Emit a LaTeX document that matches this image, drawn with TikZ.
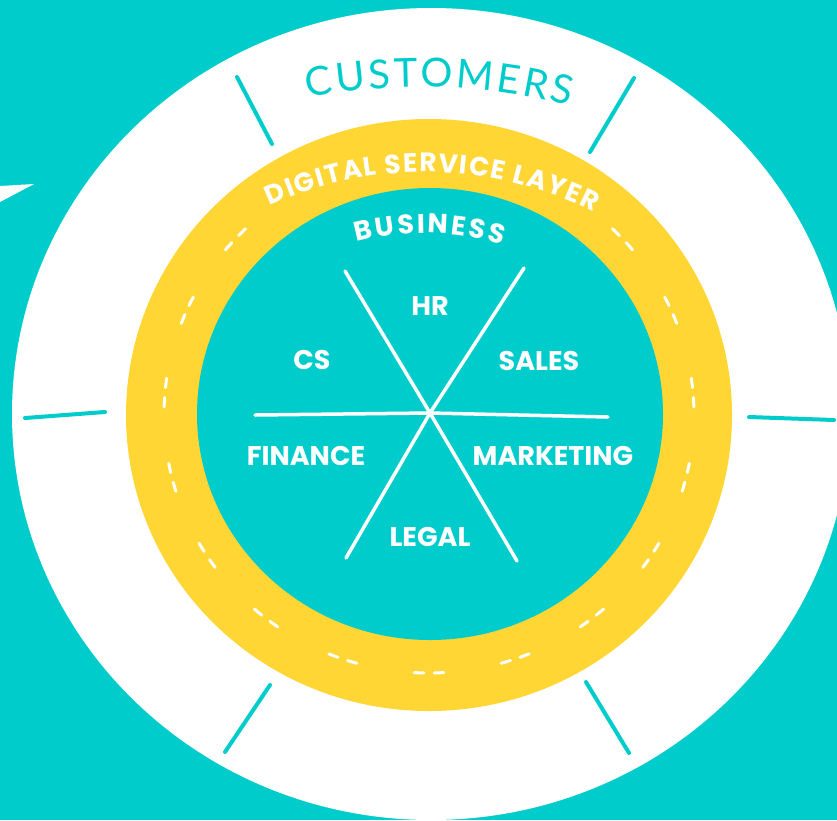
\documentclass[tikz,border=0pt]{standalone}
\usepackage{fontspec}
\setmainfont{Poppins}
\newfontfamily\custfont{Lato}
\usepackage{tikz}
\usetikzlibrary{decorations.text}
\definecolor{lagoon}{RGB}{0,204,204}
\definecolor{sunflower}{RGB}{255,214,51}

\begin{document}
\begin{tikzpicture}
	[ x=1pt, y=-1pt,
		notch/.style={draw=lagoon,line width=4pt,line cap=round},
		lane/.style={draw=white,line width=3pt,line cap=round},
		spoke/.style={draw=white,line width=3.5pt,line cap=round},
		dept/.style={text=white,font=\fontsize{27}{27}\selectfont\bfseries},
		arcText/.style={decorate,decoration={text along path,text align=fit to path,text color=#1}}]

	\useasboundingbox (0,0) rectangle (837,820);
	\clip (0,0) rectangle (837,820);
	\fill[lagoon] (0,0) rectangle (837,820);
	\fill[white] (0,186) -- (34,184) -- (0,202) -- cycle;

	\fill[white] (431,414) ellipse [x radius=419,y radius=406];
	\fill[sunflower] (429,415) ellipse [x radius=303,y radius=296];
	\fill[lagoon] (430,414) ellipse [x radius=233,y radius=226];

	\draw[notch] (237,77) -- (272,144);
	\draw[notch] (634,78) -- (590,152);
	\draw[notch] (25,418) -- (105,412);
	\draw[notch] (749,417) -- (834,420);
	\draw[notch] (270,685) -- (225,752);
	\draw[notch] (586,682) -- (629,753);

	\foreach \a in {-43,-24,...,223} {
		\draw[lane] (429,415) ++(\a-3.2:265 and 258) arc[start angle=\a-3.2,end angle=\a-1.1,x radius=265,y radius=258];
		\draw[lane] (429,415) ++(\a+1.1:265 and 258) arc[start angle=\a+1.1,end angle=\a+3.2,x radius=265,y radius=258];
	}

	\coordinate (hub) at (430,413);
	\foreach \p in {(255,415),(608,417),(345,271),(524,268),(346,558),(517,561)}
		\draw[spoke] (hub) -- \p;

	\node[dept] (hr) at (430,306) {HR};
	\node[dept] (cs) at (312,360) {CS};
	\node[dept] (sales) at (539,361) {SALES};
	\node[dept] (finance) at (306,456) {FINANCE};
	\node[dept] (marketing) at (553,456) {MARKETING};
	\node[dept] (legal) at (430,537) {LEGAL};

	\path[arcText=lagoon,decoration={text={|\custfont\fontsize{40}{40}\selectfont|CUSTOMERS}}]
		(420,687) ++(259.24:600) arc[start angle=259.24,end angle=284.48,radius=600];
	\path[arcText=white,decoration={text={|\fontsize{26.5}{26.5}\selectfont\bfseries|DIGITAL SERVICE LAYER}}]
		(425,545) ++(245.45:373) arc[start angle=245.45,end angle=296.9,radius=373];
	\path[arcText=white,decoration={text={|\fontsize{27}{27}\selectfont\bfseries|BUSINESS}}]
		(425,497) ++(255.07:264) arc[start angle=255.07,end angle=286.96,radius=264];
\end{tikzpicture}
\end{document}
